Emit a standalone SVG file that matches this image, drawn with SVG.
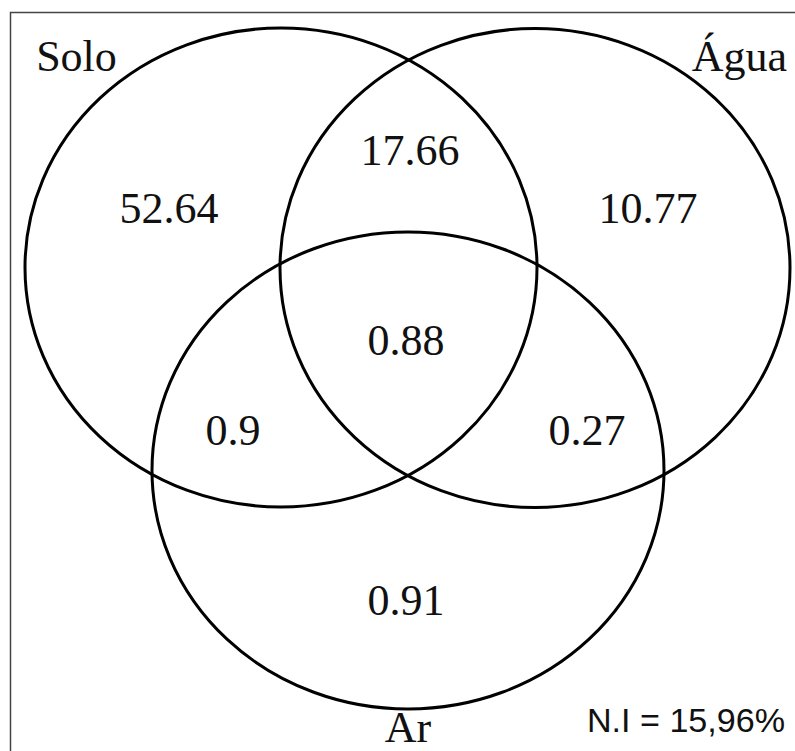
<svg xmlns="http://www.w3.org/2000/svg" width="795" height="751" viewBox="0 0 795 751">
<style>
.set{fill:none;stroke:#000;stroke-width:3}
.lbl{font-family:"Liberation Serif","Times New Roman",serif;font-size:44px;fill:#111;text-anchor:middle}
.num{font-family:"Liberation Serif","Times New Roman",serif;font-size:44px;fill:#111;text-anchor:middle}
.note{font-family:"Liberation Sans",Arial,sans-serif;font-size:33px;fill:#111}
</style>
<rect width="795" height="751" fill="#fff"/>
<path d="M10.5 760 V12.5 H800" fill="none" stroke="#444" stroke-width="1.5"/>
<g id="sets">
<g id="solo"><ellipse class="set" cx="281" cy="267.5" rx="256" ry="239.5"/><text class="lbl" x="76.5" y="71">Solo</text></g>
<g id="agua"><ellipse class="set" cx="535" cy="268" rx="255" ry="239.5"/><text class="lbl" x="739.5" y="71">Água</text></g>
<g id="ar"><ellipse class="set" cx="408" cy="470.5" rx="256" ry="238.5"/><text class="lbl" x="408" y="742">Ar</text></g>
</g>
<g id="values">
<text class="num" x="169" y="223">52.64</text>
<text class="num" x="410" y="165">17.66</text>
<text class="num" x="648" y="223">10.77</text>
<text class="num" x="406" y="355">0.88</text>
<text class="num" x="233" y="445">0.9</text>
<text class="num" x="587" y="445">0.27</text>
<text class="num" x="406" y="615">0.91</text>
</g>
<text class="note" x="587" y="732" textLength="198" lengthAdjust="spacingAndGlyphs">N.I = 15,96%</text>
</svg>
